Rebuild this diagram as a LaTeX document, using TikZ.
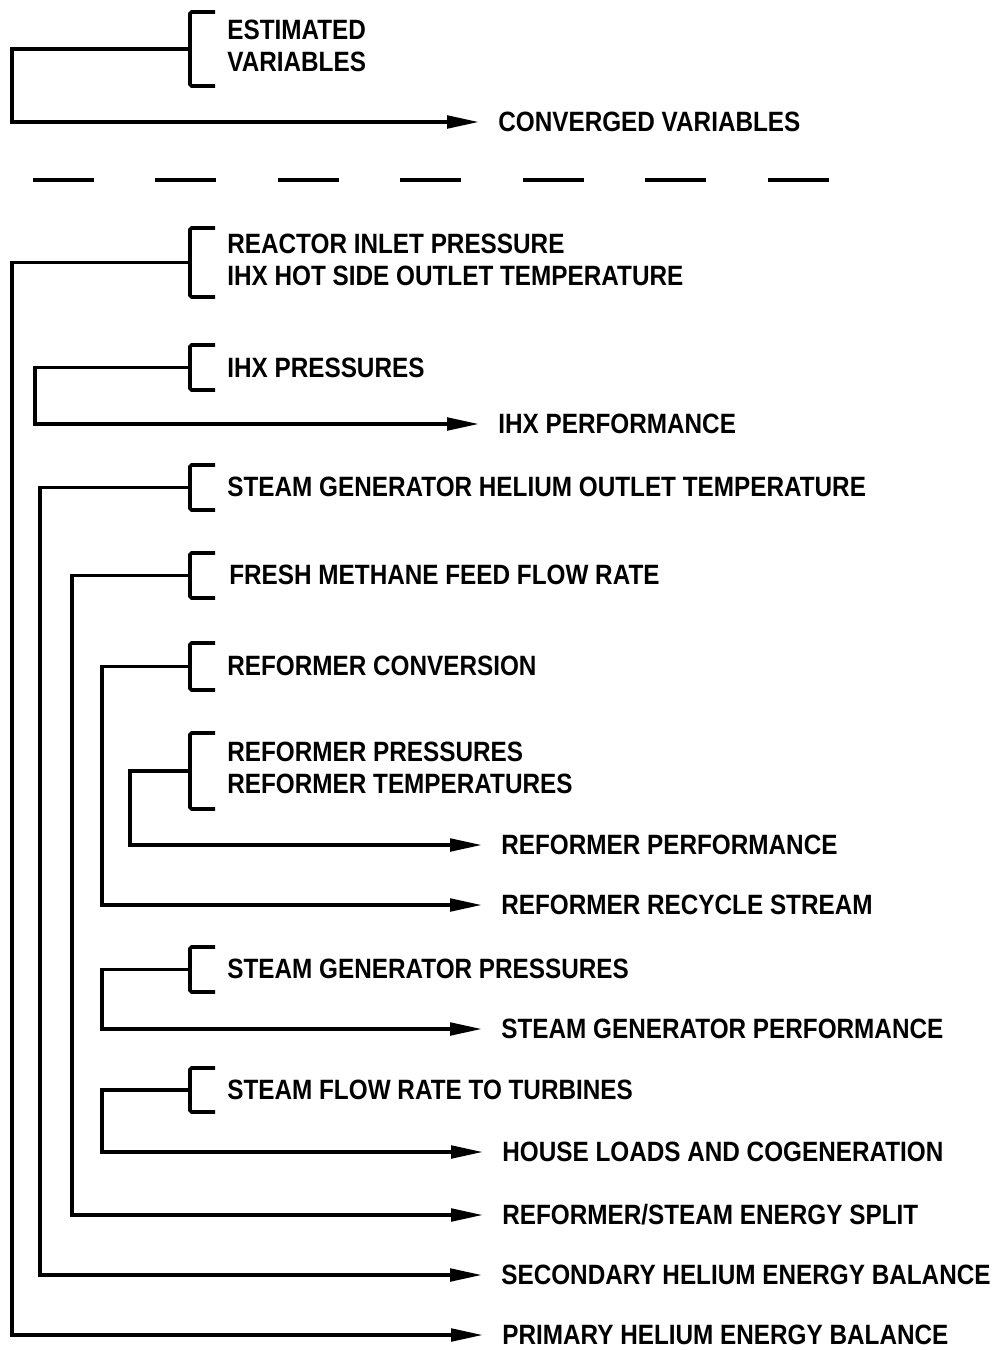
\documentclass[tikz,border=0pt]{standalone}
\usepackage{fontspec}
\setmainfont{Liberation Sans}[FakeStretch=0.87]
\usetikzlibrary{arrows.meta, positioning}

\begin{document}
\begin{tikzpicture}[
  x=0.02cm, y=-0.02cm,
  every node/.style={font=\fontsize{15.9pt}{18.2pt}\selectfont\bfseries},
  var/.style={anchor=west, align=left, inner sep=0pt},
  res/.style={anchor=west, inner sep=0pt},
  brk/.style={line width=2.1pt, rounded corners=1pt},
  flow/.style={line width=2.1pt, -{Triangle[length=0.64cm, width=0.25cm]}, shorten >=0.38cm},
  sep/.style={line width=2.1pt, dash pattern=on 1.22cm off 1.23cm}
]
  \useasboundingbox (0,0) rectangle (1000,1350);

  % key
  \node[var] (est) at (227,46) {ESTIMATED\\VARIABLES};
  \node[res] (conv) at (498,122) {CONVERGED VARIABLES};

  \coordinate (sepL) at (33,180);
  \coordinate (sepR) at (830,180);
  \draw[sep] (sepL) -- (sepR);

  % estimated variables
  \node[var] (rip) at (227,260) {REACTOR INLET PRESSURE\\IHX HOT SIDE OUTLET TEMPERATURE};
  \node[var] (ihxp) at (227,368) {IHX PRESSURES};
  \node[var] (sght) at (227,487) {STEAM GENERATOR HELIUM OUTLET TEMPERATURE};
  \node[var] (fmf) at (229,575) {FRESH METHANE FEED FLOW RATE};
  \node[var] (rc) at (227,666) {REFORMER CONVERSION};
  \node[var] (rpt) at (227,768) {REFORMER PRESSURES\\REFORMER TEMPERATURES};
  \node[var] (sgp) at (227,969) {STEAM GENERATOR PRESSURES};
  \node[var] (sfr) at (227,1090) {STEAM FLOW RATE TO TURBINES};

  % converged variables
  \node[res] (ihxperf) at (498,424) {IHX PERFORMANCE};
  \node[res] (refperf) at (501,845) {REFORMER PERFORMANCE};
  \node[res] (recyc) at (501,905) {REFORMER RECYCLE STREAM};
  \node[res] (sgperf) at (501,1029) {STEAM GENERATOR PERFORMANCE};
  \node[res] (house) at (502,1152) {HOUSE LOADS AND COGENERATION};
  \node[res] (split) at (502,1215) {REFORMER/STEAM ENERGY SPLIT};
  \node[res] (sec) at (501,1275) {SECONDARY HELIUM ENERGY BALANCE};
  \node[res] (prim) at (502,1335) {PRIMARY HELIUM ENERGY BALANCE};

  % brackets
  \foreach \name/\top/\bot in {est/12/86, rip/228/297, ihxp/345/390, sght/465/510,
      fmf/553/598, rc/643/690, rpt/733/809, sgp/947/992, sfr/1068/1112} {
    \draw[brk] (215,\top) -- (190,\top) -- (190,\bot) -- (215,\bot);
    \coordinate (\name-b) at (190,{(\top+\bot)/2});
  }

  % rails
  \coordinate (rail1) at (12,0);
  \coordinate (rail2) at (35,0);
  \coordinate (rail3) at (40,0);
  \coordinate (rail4) at (72,0);
  \coordinate (rail5) at (102,0);
  \coordinate (rail6) at (130,0);

  \draw[flow] (est-b) -- (est-b -| rail1) |- (conv);
  \draw[flow] (rip-b) -- (rip-b -| rail1) |- (prim);
  \draw[flow] (ihxp-b) -- (ihxp-b -| rail2) |- (ihxperf);
  \draw[flow] (sght-b) -- (sght-b -| rail3) |- (sec);
  \draw[flow] (fmf-b) -- (fmf-b -| rail4) |- (split);
  \draw[flow] (rc-b) -- (rc-b -| rail5) |- (recyc);
  \draw[flow] (rpt-b) -- (rpt-b -| rail6) |- (refperf);
  \draw[flow] (sgp-b) -- (sgp-b -| rail5) |- (sgperf);
  \draw[flow] (sfr-b) -- (sfr-b -| rail5) |- (house);
\end{tikzpicture}
\end{document}
